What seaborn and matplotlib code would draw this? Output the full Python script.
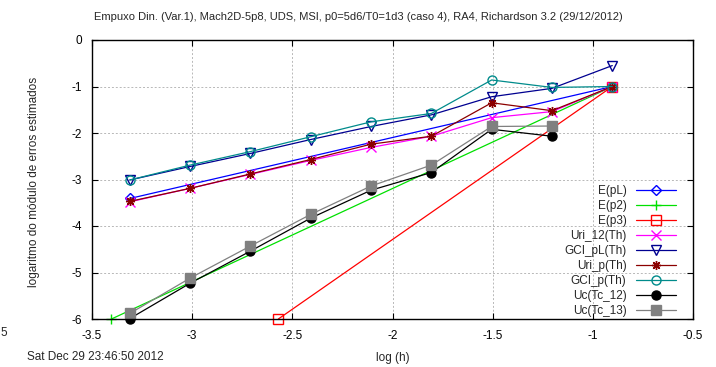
import matplotlib
matplotlib.use("Agg")
import matplotlib.pyplot as plt
import seaborn as sns

# abscissas: log10(h) for h = 1/2048 ... 1/8
log_h = [-3.311, -3.010, -2.709, -2.408, -2.107, -1.806, -1.505, -1.204, -0.903]
log_h_uc = log_h[:-1]

# reference slopes (end points only)
e_pL_x = [-3.311, -0.903]
e_pL_y = [-3.408, -1.0]
e_p2_x = [-3.403, -0.903]
e_p2_y = [-6.0, -1.0]
e_p3_x = [-2.570, -0.903]
e_p3_y = [-6.0, -1.0]

# estimated errors
uri_12_th = [-3.48, -3.19, -2.89, -2.59, -2.31, -2.07, -1.67, -1.54, -1.0]
gci_pL_th = [-3.01, -2.72, -2.44, -2.14, -1.86, -1.61, -1.22, -1.04, -0.55]
uri_p_th = [-3.47, -3.19, -2.88, -2.57, -2.24, -2.07, -1.35, -1.52, -1.0]
gci_p_th = [-3.01, -2.69, -2.40, -2.08, -1.76, -1.58, -0.86, -1.02, -1.0]
uc_tc_12 = [-5.99, -5.23, -4.54, -3.83, -3.23, -2.85, -1.92, -2.07]
uc_tc_13 = [-5.88, -5.12, -4.43, -3.75, -3.14, -2.69, -1.86, -1.85]

x_ticks = [-3.5, -3.0, -2.5, -2.0, -1.5, -1.0, -0.5]
x_tick_labels = ["-3.5", "-3", "-2.5", "-2", "-1.5", "-1", "-0.5"]
y_ticks = [0, -1, -2, -3, -4, -5, -6]
y_tick_labels = ["0", "-1", "-2", "-3", "-4", "-5", "-6"]

sns.set_style("ticks")
plt.rcParams["font.family"] = ["Liberation Sans", "DejaVu Sans"]
plt.rcParams["axes.unicode_minus"] = False

fig = plt.figure(figsize=(7.16, 3.67), dpi=100)
ax = fig.add_axes([92 / 716, 1 - 319 / 367, 601 / 716, 279 / 367])

# (label, x, y, colour, marker, filled)
series = [
    ("E(pL)", e_pL_x, e_pL_y, "#0000ff", "D", False),
    ("E(p2)", e_p2_x, e_p2_y, "#00e000", "+", False),
    ("E(p3)", e_p3_x, e_p3_y, "#ff0000", "s", False),
    ("Uri_12(Th)", log_h, uri_12_th, "#ff00ff", "x", False),
    ("GCI_pL(Th)", log_h, gci_pL_th, "#000090", "v", False),
    ("Uri_p(Th)", log_h, uri_p_th, "#8b0000", (8, 2, 0), False),
    ("GCI_p(Th)", log_h, gci_p_th, "#008b8b", "o", False),
    ("Uc(Tc_12)", log_h_uc, uc_tc_12, "#000000", "o", True),
    ("Uc(Tc_13)", log_h_uc, uc_tc_13, "#808080", "s", True),
]

for lab, xs, ys, col, mk, filled in series:
    ms = 5.5 if mk == "D" else 6.5
    sns.lineplot(x=xs, y=ys, ax=ax, color=col, marker=mk, markersize=ms,
                 markeredgecolor=col, markerfacecolor=col if filled else "none",
                 markeredgewidth=1, linewidth=0.9, label=lab, sort=False,
                 clip_on=False)

ax.set_xlim(-3.5, -0.5)
ax.set_ylim(-6, 0)
ax.set_xticks(x_ticks)
ax.set_xticklabels(x_tick_labels)
ax.set_yticks(y_ticks)
ax.set_yticklabels(y_tick_labels)
ax.tick_params(direction="in", top=True, right=True, length=4, width=0.8,
               labelsize=8.5, colors="black")
ax.tick_params(axis="x", pad=8)
ax.tick_params(axis="y", pad=7)
ax.grid(True, color="#b8b8b8", linestyle=(0, (2, 2)), linewidth=0.7)
ax.set_axisbelow(True)
for sp in ax.spines.values():
    sp.set_color("black")
    sp.set_linewidth(1)

ax.set_xlabel("log (h)", fontsize=8.5, labelpad=7)
ax.set_ylabel("logaritmo do módulo de erros estimados", fontsize=8.5)
ax.yaxis.set_label_coords(-0.087, 0.49)

fig.text(0.5, 1 - 17 / 367,
         "Empuxo Din. (Var.1), Mach2D-5p8, UDS, MSI, p0=5d6/T0=1d3 (caso 4), RA4, Richardson 3.2 (29/12/2012)",
         ha="center", va="center", fontsize=8)
fig.text(27 / 716, 1 - 357 / 367, "Sat Dec 29 23:46:50 2012", ha="left", va="center", fontsize=8.5)
fig.text(0, 1 - 333 / 367, "5", ha="left", va="center", fontsize=8.5)

ax.legend(loc="lower right", bbox_to_anchor=(676 / 716, 1 - 317 / 367),
          bbox_transform=fig.transFigure, frameon=False, markerfirst=False,
          fontsize=8.5, handlelength=3.4, handletextpad=0.8, labelspacing=0.25,
          borderaxespad=0, borderpad=0)

fig.savefig("out.png", dpi=100)
